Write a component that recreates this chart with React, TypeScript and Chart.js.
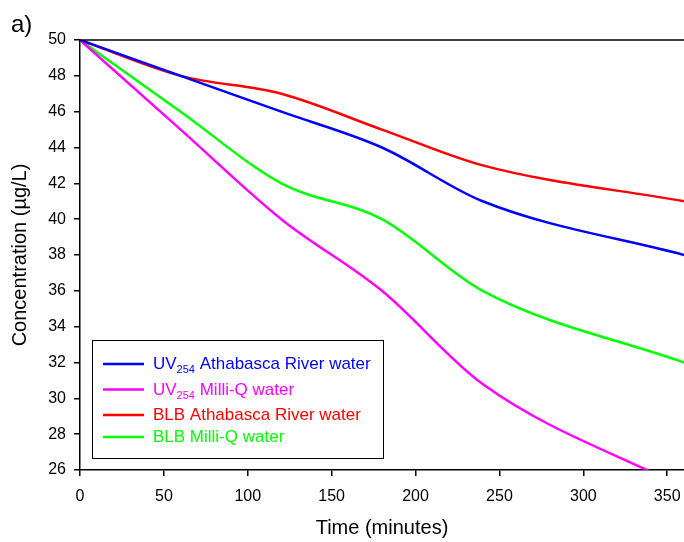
import React, { useEffect, useRef } from "react";
import { Chart, registerables } from "chart.js";

Chart.register(...registerables);

const timeMinutes = [0, 60, 120, 180, 240, 360];
const uvAthabasca = [50, 48, 46, 44, 41, 38];
const uvMilliQ = [50, 45, 40, 36, 30.8, 25];
const blbAthabasca = [50, 48, 47, 45, 43, 41];
const blbMilliQ = [50, 46, 42, 40, 36, 32];

const xTickValues = [0, 50, 100, 150, 200, 250, 300, 350];
const yTickValues = [26, 28, 30, 32, 34, 36, 38, 40, 42, 44, 46, 48, 50];

const seriesLabels = [
  "UV254 Athabasca River water",
  "UV254 Milli-Q water",
  "BLB Athabasca River water",
  "BLB Milli-Q water",
];
const legendParts = [
  [{ t: "UV" }, { t: "254", sub: true }, { t: " Athabasca River water" }],
  [{ t: "UV" }, { t: "254", sub: true }, { t: " Milli-Q water" }],
  [{ t: "BLB Athabasca River water" }],
  [{ t: "BLB Milli-Q water" }],
];
const seriesColors = ["#0000FF", "#FF00FF", "#FF0000", "#00FF00"];
const seriesValues = [uvAthabasca, uvMilliQ, blbAthabasca, blbMilliQ];

const FONT = 'Arial, "Liberation Sans", sans-serif';

const decorPlugin = {
  id: "decor",
  afterDraw(chart: any) {
    const { ctx, chartArea } = chart;
    ctx.save();
    // top frame line
    ctx.strokeStyle = "#000";
    ctx.lineWidth = 1.5;
    ctx.beginPath();
    ctx.moveTo(chartArea.left, chartArea.top);
    ctx.lineTo(chartArea.right, chartArea.top);
    ctx.stroke();

    // panel label
    ctx.fillStyle = "#000";
    ctx.font = `24px ${FONT}`;
    ctx.textBaseline = "alphabetic";
    ctx.textAlign = "left";
    ctx.fillText("a)", 11, 32);

    // legend box
    const bx = 92.5, by = 340.5, bw = 291, bh = 118;
    ctx.fillStyle = "#fff";
    ctx.fillRect(bx, by, bw, bh);
    ctx.strokeStyle = "#000";
    ctx.lineWidth = 1;
    ctx.strokeRect(bx, by, bw, bh);

    const rowY = [364, 389.5, 415, 437];
    chart.data.datasets.forEach((ds: any, i: number) => {
      const y = rowY[i];
      ctx.strokeStyle = ds.borderColor;
      ctx.lineWidth = 2.5;
      ctx.beginPath();
      ctx.moveTo(103, y);
      ctx.lineTo(144, y);
      ctx.stroke();
      ctx.fillStyle = ds.borderColor;
      let x = 153;
      const base = y + 5;
      for (const p of legendParts[i] as any[]) {
        ctx.font = p.sub ? `11px ${FONT}` : `17px ${FONT}`;
        ctx.fillText(p.t, x, p.sub ? base + 4 : base);
        x += ctx.measureText(p.t).width;
      }
    });
    ctx.restore();
  },
};

export default function App() {
  const ref = useRef<HTMLCanvasElement | null>(null);
  useEffect(() => {
    document.body.style.margin = "0";
    const canvas = ref.current!;
    const chart = new Chart(canvas, {
      type: "line",
      data: {
        labels: timeMinutes,
        datasets: seriesValues.map((vals, i) => ({
          label: seriesLabels[i],
          data: vals.map((v, j) => ({ x: timeMinutes[j], y: v })),
          borderColor: seriesColors[i],
          backgroundColor: seriesColors[i],
          borderWidth: 2.5,
          pointRadius: 0,
          cubicInterpolationMode: "monotone" as const,
          fill: false,
        })),
      },
      options: {
        animation: false,
        responsive: false,
        devicePixelRatio: 1,
        layout: { padding: { top: 40, right: 0, left: 0, bottom: 0 } },
        plugins: { legend: { display: false }, tooltip: { enabled: false } },
        scales: {
          x: {
            type: "linear",
            min: 0,
            max: 360,
            afterBuildTicks: (s: any) => {
              s.ticks = xTickValues.map((v) => ({ value: v }));
            },
            afterFit: (s: any) => {
              s.height = 72;
              s.paddingLeft = 0;
              s.paddingRight = 0;
            },
            grid: {
              display: true,
              drawOnChartArea: false,
              drawTicks: true,
              tickLength: 6,
              color: "#000",
              lineWidth: 1.5,
            },
            border: { display: true, color: "#000", width: 1.5 },
            ticks: {
              color: "#000",
              font: { family: FONT, size: 16 },
              padding: 11,
              maxRotation: 0,
              autoSkip: false,
            },
            title: {
              display: true,
              text: "Time (minutes)",
              color: "#000",
              font: { family: FONT, size: 20 },
              padding: { top: 0, bottom: 2 },
            },
          },
          y: {
            type: "linear",
            min: 26,
            max: 50,
            afterBuildTicks: (s: any) => {
              s.ticks = yTickValues.map((v) => ({ value: v }));
            },
            afterFit: (s: any) => {
              s.width = 80;
              s.paddingTop = 0;
              s.paddingBottom = 0;
            },
            grid: {
              display: true,
              drawOnChartArea: false,
              drawTicks: true,
              tickLength: 6,
              color: "#000",
              lineWidth: 1.5,
            },
            border: { display: true, color: "#000", width: 1.5 },
            ticks: {
              color: "#000",
              font: { family: FONT, size: 16 },
              padding: 8,
              autoSkip: false,
            },
            title: {
              display: true,
              text: "Concentration (µg/L)",
              color: "#000",
              font: { family: FONT, size: 20 },
              padding: { top: 8, bottom: 0 },
            },
          },
        },
      },
      plugins: [decorPlugin],
    });
    return () => chart.destroy();
  }, []);
  return (
    <div style={{ position: "absolute", left: 0, top: 0, width: 684, height: 542 }}>
      <canvas ref={ref} width={684} height={542} />
    </div>
  );
}
